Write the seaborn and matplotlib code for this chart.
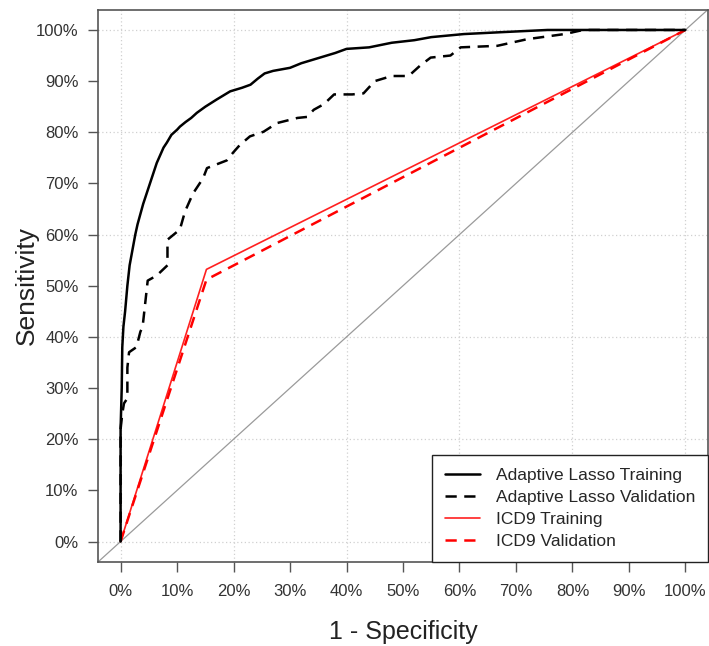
import numpy as np
import pandas as pd
import matplotlib
matplotlib.use("Agg")
import matplotlib.pyplot as plt
import seaborn as sns

# ROC points: (1 - specificity %, sensitivity %)
lasso_train_fpr = [0, 0, 0.2, 0.3, 0.5, 0.8, 1.2, 1.6, 2.1, 2.6, 3.0, 3.5, 4.0, 4.6, 5.2, 5.8, 6.4, 7.0, 7.6,
                   8.2, 9.0, 10.0, 10.5, 11.5, 12.5, 13.5, 15, 17, 19.4, 21.5, 23.0, 24.3, 25.5, 27, 30, 32, 35,
                   38, 40, 44, 48, 52, 55, 60.8, 68, 75.6, 100]
lasso_train_tpr = [0, 22, 30, 38, 42, 45, 50, 54, 57, 60, 62, 64, 66, 68, 70, 72, 74, 75.5, 77,
                   78, 79.5, 80.5, 81.1, 82, 82.8, 83.8, 85, 86.4, 88, 88.7, 89.3, 90.5, 91.5, 92, 92.6, 93.5, 94.5,
                   95.5, 96.3, 96.6, 97.5, 98, 98.6, 99.2, 99.6, 100, 100]

lasso_val_fpr = [0, 0, 0.3, 0.6, 1.2, 1.2, 1.5, 2.8, 3.5, 3.9, 4.3, 4.8, 6.4, 8.3, 8.3, 10.5, 11.4, 12.8,
                 14.6, 15.3, 18.8, 19.9, 21.1, 22.9, 25.3, 27.7, 31.3, 33, 34.2, 36, 37.8, 41, 43, 45,
                 48, 51, 53, 54.9, 58.4, 60.2, 66.7, 72, 78.6, 81.5, 83, 100]
lasso_val_tpr = [0, 22, 25, 27, 28, 34, 37, 38, 41, 42, 46, 51, 52, 54, 59, 61, 64.5, 68,
                 71, 73, 74.5, 76, 77.5, 79.2, 80.1, 81.8, 82.8, 83, 84.4, 85.5, 87.4, 87.4, 87.6, 90,
                 91, 91, 93, 94.6, 95, 96.6, 96.9, 98.2, 99.2, 99.9, 100, 100]

icd9_train_fpr = [0, 15.2, 100]
icd9_train_tpr = [0, 53.2, 100]
icd9_val_fpr = [0, 15.2, 100]
icd9_val_tpr = [0, 51.2, 100]

labels = ["Adaptive Lasso Training", "Adaptive Lasso Validation", "ICD9 Training", "ICD9 Validation"]
tick_vals = [0, 10, 20, 30, 40, 50, 60, 70, 80, 90, 100]
tick_labels = [f"{v}%" for v in tick_vals]

sns.set_style("white")
plt.rcParams['font.family'] = ['Liberation Sans', 'DejaVu Sans']

fig = plt.figure(figsize=(7.09, 6.46), dpi=100)
ax = fig.add_axes([98 / 709, 1 - 562 / 646, (708 - 98) / 709, (562 - 9.5) / 646])

# grid every 20%
for g in [0, 20, 40, 60, 80, 100]:
    ax.axhline(g, color="#d0d0d0", lw=0.9, ls=(0, (1, 2)), zorder=0)
    ax.axvline(g, color="#d0d0d0", lw=0.9, ls=(0, (1, 2)), zorder=0)

ax.axline((0, 0), (100, 100), color="#9a9a9a", lw=0.9, zorder=1)

sns.lineplot(x=icd9_train_fpr, y=icd9_train_tpr, estimator=None, sort=False, ax=ax,
             color="#ff2020", lw=1.2, label=labels[2], zorder=2)
sns.lineplot(x=icd9_val_fpr, y=icd9_val_tpr, estimator=None, sort=False, ax=ax,
             color="#ff0000", lw=1.8, linestyle=(0, (4.5, 3)), label=labels[3], zorder=3)
sns.lineplot(x=lasso_train_fpr, y=lasso_train_tpr, estimator=None, sort=False, ax=ax,
             color="black", lw=1.8, label=labels[0], zorder=4)
sns.lineplot(x=lasso_val_fpr, y=lasso_val_tpr, estimator=None, sort=False, ax=ax,
             color="black", lw=1.8, linestyle=(0, (4.5, 3)), label=labels[1], zorder=4)

ax.set_xlim(-4, 104)
ax.set_ylim(-4, 104)
ax.set_xticks(tick_vals)
ax.set_xticklabels(tick_labels)
ax.set_yticks(tick_vals)
ax.set_yticklabels(tick_labels)
ax.tick_params(axis="both", which="major", direction="out", length=7, width=1.0,
               color="#555555", labelsize=12, labelcolor="#333333")
ax.tick_params(axis="x", pad=9)
ax.tick_params(axis="y", pad=7)
ax.tick_params(bottom=True, left=True)
for s in ax.spines.values():
    s.set_visible(True)
    s.set_color("#555555")
    s.set_linewidth(1.2)

ax.set_xlabel("1 - Specificity", fontsize=18, color="#222222", labelpad=15)
ax.set_ylabel("Sensitivity", fontsize=19, color="#222222", labelpad=-2)

handles, labs = ax.get_legend_handles_labels()
order = [labs.index(l) for l in labels]
leg = ax.legend([handles[i] for i in order], [labs[i] for i in order],
                loc="lower right", bbox_to_anchor=(1.0, 0.0), borderaxespad=0,
                fontsize=12.5, frameon=True, fancybox=False, framealpha=1,
                edgecolor="#222222", borderpad=0.75, labelspacing=0.4,
                handlelength=2.0, handletextpad=0.9)
leg.get_frame().set_linewidth(1.0)

fig.savefig("out.png", dpi=100)
